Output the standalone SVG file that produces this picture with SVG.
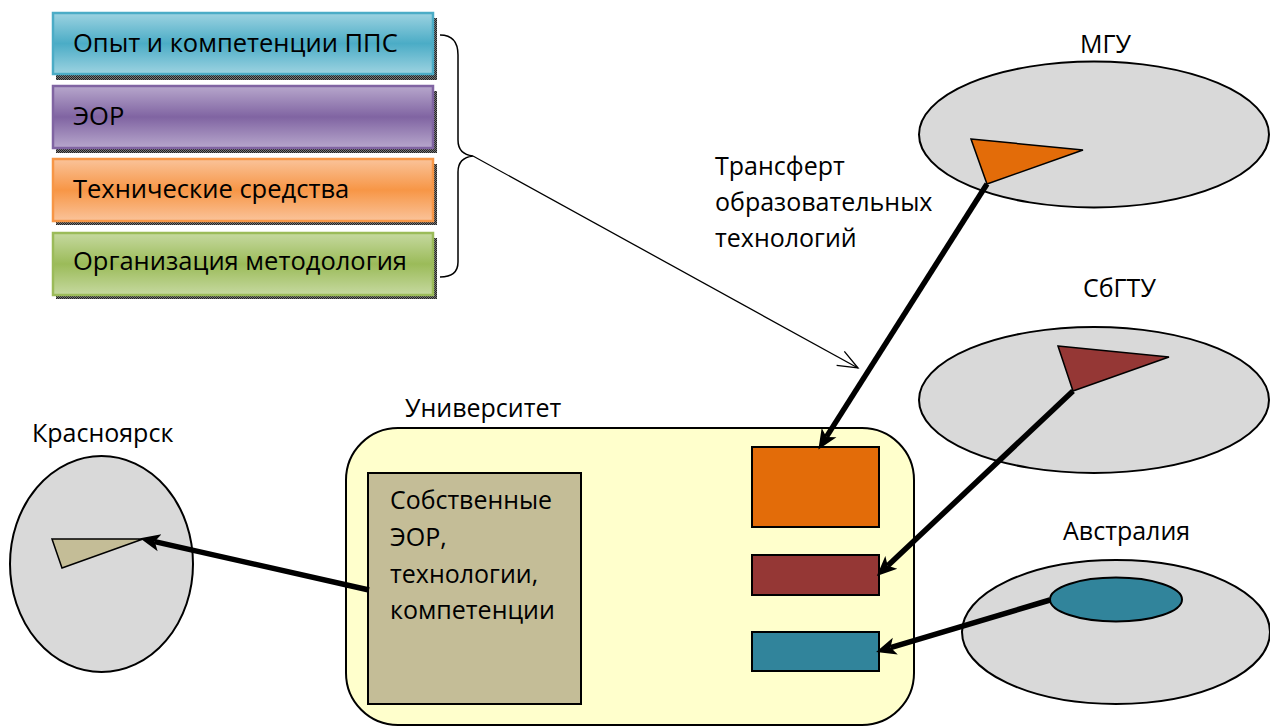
<svg xmlns="http://www.w3.org/2000/svg" width="1270" height="727" viewBox="0 0 1270 727">
  <defs>
    <linearGradient id="gTeal" x1="0" y1="0" x2="0" y2="1">
      <stop offset="0" stop-color="#9DD3E1"/>
      <stop offset="0.5" stop-color="#4BACC6"/>
      <stop offset="1" stop-color="#9DD3E1"/>
    </linearGradient>
    <linearGradient id="gPurple" x1="0" y1="0" x2="0" y2="1">
      <stop offset="0" stop-color="#B7A7CC"/>
      <stop offset="0.5" stop-color="#8064A2"/>
      <stop offset="1" stop-color="#B7A7CC"/>
    </linearGradient>
    <linearGradient id="gOrange" x1="0" y1="0" x2="0" y2="1">
      <stop offset="0" stop-color="#FAC39A"/>
      <stop offset="0.5" stop-color="#F79646"/>
      <stop offset="1" stop-color="#FAC39A"/>
    </linearGradient>
    <linearGradient id="gGreen" x1="0" y1="0" x2="0" y2="1">
      <stop offset="0" stop-color="#C6D9A0"/>
      <stop offset="0.5" stop-color="#9BBB59"/>
      <stop offset="1" stop-color="#C6D9A0"/>
    </linearGradient>
    <pattern id="shadeDots" width="2" height="2" patternUnits="userSpaceOnUse">
      <rect width="2" height="2" fill="#777"/>
      <rect width="1" height="1" fill="#222"/>
      <rect x="1" y="1" width="1" height="1" fill="#222"/>
    </pattern>
    <marker id="headSolid" markerUnits="userSpaceOnUse" markerWidth="20" markerHeight="20" viewBox="0 0 16 14" refX="4" refY="7" orient="auto">
      <path d="M0,0 L16,7 L0,14 L4,7 z" fill="#000"/>
    </marker>
    <marker id="headOpen" markerUnits="userSpaceOnUse" markerWidth="24" markerHeight="24" viewBox="-22 -12 24 24" refX="0" refY="0" orient="auto">
      <path d="M-20,-8 L0,0 L-20,8" fill="none" stroke="#000" stroke-width="1.3"/>
    </marker>
  </defs>
  <style>
    text { font-family: "Open Sans", "Liberation Sans", sans-serif; fill: #000; }
    .lbl { font-size: 25px; }
    .bar { font-size: 25.5px; }
    .barbox { stroke-width: 2.5; }
    .shadow { fill: url(#shadeDots); }
    .region { fill: #D9D9D9; stroke: #000; stroke-width: 2; }
    .flag { stroke: #000; stroke-width: 1.5; stroke-linejoin: miter; }
    .slot { stroke: #000; stroke-width: 2; }
    .thick { stroke: #000; stroke-width: 5.5; fill: none; marker-end: url(#headSolid); }
    .thin { stroke: #000; stroke-width: 1.3; fill: none; }
  </style>

  <!-- component bars -->
  <g id="bar-pps">
    <rect class="shadow" x="56" y="18" width="381" height="62"/>
    <rect class="barbox" x="53" y="13" width="380" height="61" fill="url(#gTeal)" stroke="#4BACC6"/>
    <text class="bar" x="73" y="52">Опыт и компетенции ППС</text>
  </g>
  <g id="bar-eor">
    <rect class="shadow" x="56" y="91" width="381" height="62"/>
    <rect class="barbox" x="53" y="86" width="380" height="62" fill="url(#gPurple)" stroke="#8064A2"/>
    <text class="bar" x="73" y="125">ЭОР</text>
  </g>
  <g id="bar-tech">
    <rect class="shadow" x="56" y="164" width="381" height="61"/>
    <rect class="barbox" x="53" y="159" width="380" height="62" fill="url(#gOrange)" stroke="#F79646"/>
    <text class="bar" x="73" y="198">Технические средства</text>
  </g>
  <g id="bar-org">
    <rect class="shadow" x="56" y="238" width="381" height="61"/>
    <rect class="barbox" x="53" y="233" width="380" height="62" fill="url(#gGreen)" stroke="#9BBB59"/>
    <text class="bar" x="73" y="270">Организация методология</text>
  </g>

  <!-- curly brace grouping the bars -->
  <g id="brace">
    <path d="M440,35 C452,35 458,42 458,55 L458,140 C458,150 464,155 473,156 C464,157 458,162 458,172 L458,262 C458,272 452,277 440,277" fill="none" stroke="#000" stroke-width="1.5"/>
  </g>

  <g id="transfer-label">
    <text class="lbl" x="715" y="175">Трансферт</text>
    <text class="lbl" x="715" y="211">образовательных</text>
    <text class="lbl" x="715" y="247">технологий</text>
  </g>

  <!-- partner universities -->
  <g id="msu">
    <ellipse class="region" cx="1094" cy="134.5" rx="175" ry="73"/>
    <polygon class="flag" points="971,139 1083,150 987,184" fill="#E36C09"/>
    <text class="lbl" x="1080" y="53">МГУ</text>
  </g>
  <g id="spbstu">
    <ellipse class="region" cx="1094" cy="400" rx="175" ry="73"/>
    <polygon class="flag" points="1058,346 1169,357 1073,391" fill="#953735"/>
    <text class="lbl" x="1083" y="297">СбГТУ</text>
  </g>
  <g id="australia">
    <ellipse class="region" cx="1116" cy="632" rx="154" ry="72"/>
    <ellipse cx="1116" cy="599.5" rx="66" ry="22" fill="#31849B" stroke="#000" stroke-width="2"/>
    <text class="lbl" x="1063" y="540">Австралия</text>
  </g>
  <g id="krasnoyarsk">
    <ellipse class="region" cx="101.5" cy="564" rx="91.5" ry="108"/>
    <polygon class="flag" points="52,539 143,539 62,568" fill="#C4BD97"/>
    <text class="lbl" x="32" y="442">Красноярск</text>
  </g>

  <!-- home university -->
  <g id="university">
    <rect x="346" y="428" width="568" height="297" rx="52" ry="52" fill="#FFFFCC" stroke="#000" stroke-width="2"/>
    <text class="lbl" x="405" y="417">Университет</text>
  </g>
  <g id="own-resources">
    <rect class="slot" x="368" y="473" width="213" height="231" fill="#C4BD97"/>
    <text class="lbl" x="390" y="509" textLength="162" lengthAdjust="spacingAndGlyphs">Собственные</text>
    <text class="lbl" x="390" y="546">ЭОР,</text>
    <text class="lbl" x="390" y="583">технологии,</text>
    <text class="lbl" x="390" y="619">компетенции</text>
  </g>
  <g id="slot-msu">
    <rect class="slot" x="752" y="447" width="127" height="80" fill="#E36C09"/>
  </g>
  <g id="slot-spbstu">
    <rect class="slot" x="752" y="555" width="127" height="40" fill="#953735"/>
  </g>
  <g id="slot-australia">
    <rect class="slot" x="752" y="632" width="127" height="39" fill="#31849B"/>
  </g>

  <!-- connectors -->
  <g id="connectors">
    <line class="thin" x1="473" y1="156" x2="858" y2="368" marker-end="url(#headOpen)"/>
    <line class="thick" x1="987" y1="184" x2="826.4" y2="436.9"/>
    <line class="thick" x1="1073" y1="391" x2="887.7" y2="565.8"/>
    <line class="thick" x1="1050" y1="600" x2="890.5" y2="647.6"/>
    <line class="thick" x1="369" y1="590" x2="154.7" y2="541.6"/>
  </g>
</svg>
